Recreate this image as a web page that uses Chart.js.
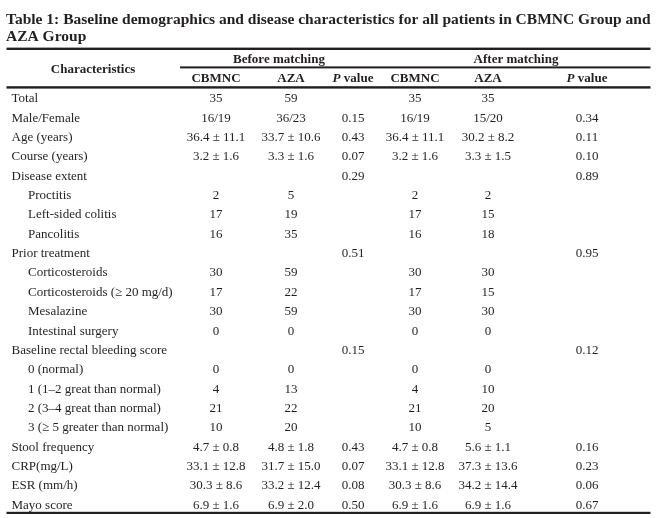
<!DOCTYPE html>
<html>
<head>
<meta charset="utf-8">
<script src="https://cdn.jsdelivr.net/npm/chart.js@4.4.0/dist/chart.umd.min.js"></script>
<style>
  html, body { margin: 0; padding: 0; background: #fff; }
  #wrap { width: 657px; height: 518px; }
</style>
</head>
<body>
<div id="wrap"><canvas id="table1"></canvas></div>
<script>
// table content
var titleLines = ['Table 1: Baseline demographics and disease characteristics for all patients in CBMNC Group and', 'AZA Group'];
var groupHeaders = ['Before matching', 'After matching'];
var columnHeaders = ['CBMNC', 'AZA', 'P value', 'CBMNC', 'AZA', 'P value'];

var rowLabels = ['Total', 'Male/Female', 'Age (years)', 'Course (years)', 'Disease extent',
	'Proctitis', 'Left-sided colitis', 'Pancolitis', 'Prior treatment',
	'Corticosteroids', 'Corticosteroids (\u2265 20 mg/d)', 'Mesalazine', 'Intestinal surgery',
	'Baseline rectal bleeding score', '0 (normal)', '1 (1\u20132 great than normal)',
	'2 (3\u20134 great than normal)', '3 (\u2265 5 greater than normal)',
	'Stool frequency', 'CRP(mg/L)', 'ESR (mm/h)', 'Mayo score'];
// 1 = sub item of the row group above it
var rowLevel = [0, 0, 0, 0, 0, 1, 1, 1, 0, 1, 1, 1, 1, 0, 1, 1, 1, 1, 0, 0, 0, 0];

var cbmncBefore = ['35', '16/19', '36.4 \u00b1 11.1', '3.2 \u00b1 1.6', '', '2', '17', '16', '', '30', '17', '30', '0', '', '0', '4', '21', '10', '4.7 \u00b1 0.8', '33.1 \u00b1 12.8', '30.3 \u00b1 8.6', '6.9 \u00b1 1.6'];
var azaBefore = ['59', '36/23', '33.7 \u00b1 10.6', '3.3 \u00b1 1.6', '', '5', '19', '35', '', '59', '22', '59', '0', '', '0', '13', '22', '20', '4.8 \u00b1 1.8', '31.7 \u00b1 15.0', '33.2 \u00b1 12.4', '6.9 \u00b1 2.0'];
var pBefore = ['', '0.15', '0.43', '0.07', '0.29', '', '', '', '0.51', '', '', '', '', '0.15', '', '', '', '', '0.43', '0.07', '0.08', '0.50'];
var cbmncAfter = ['35', '16/19', '36.4 \u00b1 11.1', '3.2 \u00b1 1.6', '', '2', '17', '16', '', '30', '17', '30', '0', '', '0', '4', '21', '10', '4.7 \u00b1 0.8', '33.1 \u00b1 12.8', '30.3 \u00b1 8.6', '6.9 \u00b1 1.6'];
var azaAfter = ['35', '15/20', '30.2 \u00b1 8.2', '3.3 \u00b1 1.5', '', '2', '15', '18', '', '30', '15', '30', '0', '', '0', '10', '20', '5', '5.6 \u00b1 1.1', '37.3 \u00b1 13.6', '34.2 \u00b1 14.4', '6.9 \u00b1 1.6'];
var pAfter = ['', '0.34', '0.11', '0.10', '0.89', '', '', '', '0.95', '', '', '', '', '0.12', '', '', '', '', '0.16', '0.23', '0.06', '0.67'];

var columns = [cbmncBefore, azaBefore, pBefore, cbmncAfter, azaAfter, pAfter];

// layout (x scale runs in page pixels)
var colCenter = [216, 291, 353, 415, 488, 587];
var groupCenter = [279, 516];
var ink = '#231f20';
var serif = '"Liberation Serif", "Times New Roman", serif';

function drawText(ctx, text, x, y, align, font) {
	ctx.font = font;
	ctx.textAlign = align;
	ctx.textBaseline = 'alphabetic';
	ctx.fillText(text, x, y);
}

// "P value" with an italic P
function drawPValue(ctx, x, y) {
	var f1 = 'italic bold 13px ' + serif, f2 = 'bold 13px ' + serif;
	ctx.font = f1; var w1 = ctx.measureText('P').width;
	ctx.font = f2; var w2 = ctx.measureText(' value').width;
	var left = x - (w1 + w2) / 2;
	drawText(ctx, 'P', left, y, 'left', f1);
	drawText(ctx, ' value', left + w1, y, 'left', f2);
}

var tablePlugin = {
	id: 'tablePlugin',
	afterDraw: function(chart) {
		var ctx = chart.ctx, xs = chart.scales.x, ys = chart.scales.y;
		ctx.save();
		ctx.fillStyle = ink;

		// title
		drawText(ctx, titleLines[0], xs.getPixelForValue(6), 24, 'left', 'bold 15.5px ' + serif);
		drawText(ctx, titleLines[1], xs.getPixelForValue(6), 41, 'left', 'bold 15.5px ' + serif);

		// rules
		var left = xs.getPixelForValue(6.5), right = xs.getPixelForValue(650.5);
		ctx.fillRect(left, 47.6, right - left, 2.4);
		ctx.fillRect(xs.getPixelForValue(180), 66.4, right - xs.getPixelForValue(180), 2);
		ctx.fillRect(left, 86.2, right - left, 2.4);
		ctx.fillRect(left, ys.bottom - 2.2, right - left, 2.2);

		// headers
		var hf = 'bold 13px ' + serif;
		drawText(ctx, 'Characteristics', xs.getPixelForValue(93), 73, 'center', hf);
		groupHeaders.forEach(function(g, i) {
			drawText(ctx, g, xs.getPixelForValue(groupCenter[i]), 63, 'center', hf);
		});
		columnHeaders.forEach(function(h, i) {
			var cx = xs.getPixelForValue(colCenter[i]);
			if (h === 'P value') drawPValue(ctx, cx, 82);
			else drawText(ctx, h, cx, 82, 'center', hf);
		});

		// body
		var bf = '13px ' + serif;
		rowLabels.forEach(function(label, r) {
			var y = ys.getPixelForValue(r) + 4.5;
			var lx = xs.getPixelForValue(rowLevel[r] ? 28 : 11.5);
			drawText(ctx, label, lx, y, 'left', bf);
			columns.forEach(function(col, c) {
				if (col[r] !== '') drawText(ctx, col[r], xs.getPixelForValue(colCenter[c]), y, 'center', bf);
			});
		});
		ctx.restore();
	}
};

new Chart(document.getElementById('table1'), {
	type: 'scatter',
	data: { labels: rowLabels, datasets: [] },
	options: {
		responsive: true,
		maintainAspectRatio: false,
		animation: false,
		events: [],
		layout: { padding: { top: 88, bottom: 4, left: 0, right: 0 } },
		scales: {
			x: { type: 'linear', min: 0, max: 657, display: false },
			y: { type: 'category', labels: rowLabels, offset: true, display: false }
		},
		plugins: { legend: { display: false }, tooltip: { enabled: false } }
	},
	plugins: [tablePlugin]
});
</script>
</body>
</html>
